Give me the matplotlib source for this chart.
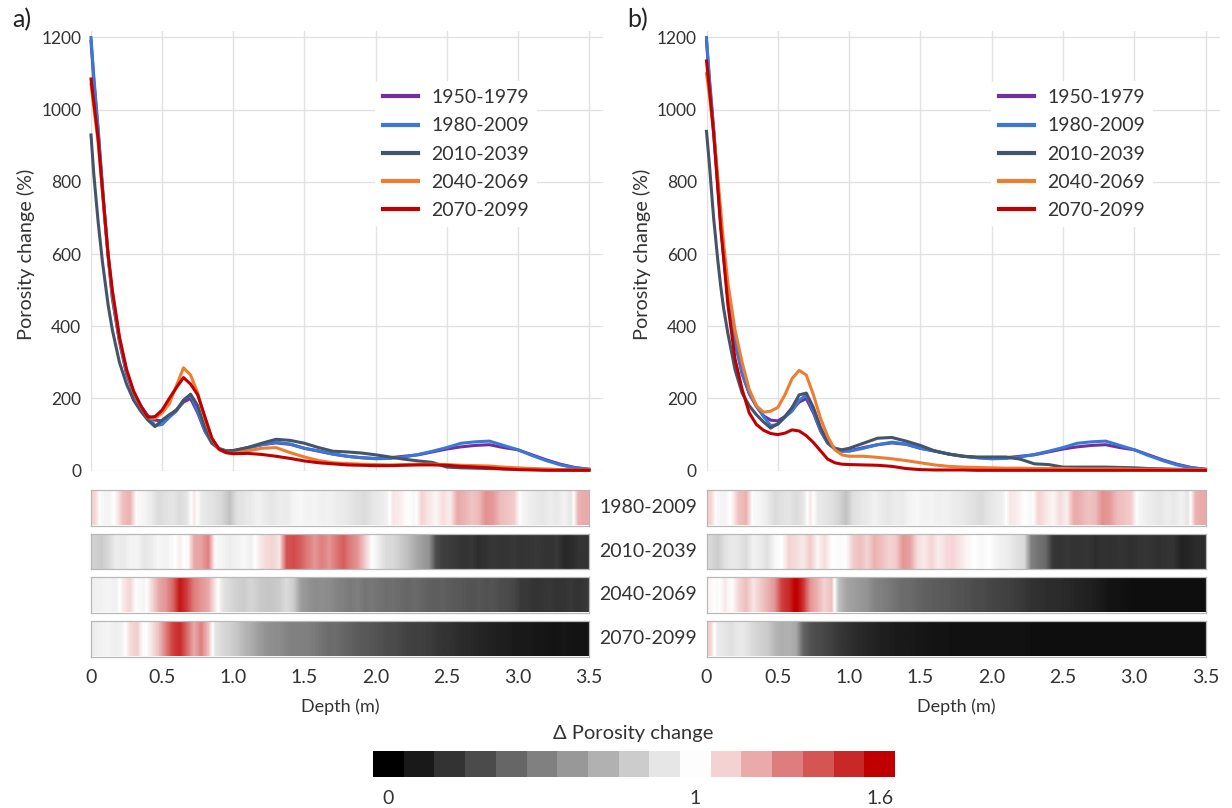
import numpy as np
import matplotlib
matplotlib.use("Agg")
import matplotlib.pyplot as plt
from matplotlib.colors import LinearSegmentedColormap, Normalize

plt.rcParams["font.family"] = ["Lato", "DejaVu Sans"]

# ---------------------------------------------------------------- data
depth = [0, 0.02, 0.05, 0.08, 0.1, 0.12, 0.15, 0.2, 0.25, 0.3, 0.35, 0.4, 0.45,
         0.5, 0.55, 0.6, 0.65, 0.7, 0.75, 0.8, 0.85, 0.9, 0.95, 1.0, 1.1, 1.2,
         1.3, 1.4, 1.5, 1.6, 1.7, 1.8, 1.9, 2.0, 2.1, 2.2, 2.3, 2.4, 2.5, 2.6,
         2.7, 2.8, 2.9, 3.0, 3.1, 3.2, 3.3, 3.4, 3.5]

periods = ["1950-1979", "1980-2009", "2010-2039", "2040-2069", "2070-2099"]
period_colors = ["#7030a0", "#3a78d6", "#44546a", "#ed7d31", "#c00000"]

# historical periods (shared by both scenarios)
por_1950 = [1190, 1080, 940, 785, 685, 595, 478, 358, 268, 213, 178, 152, 140,
            138, 150, 168, 190, 200, 160, 110, 76, 60, 54, 55, 64, 72,
            77, 73, 62, 54, 46, 40, 36, 34, 36, 40, 44, 52, 60, 66,
            70, 72, 64, 58, 44, 30, 18, 9, 4]
por_1980 = [1200, 1090, 950, 790, 690, 600, 480, 360, 270, 215, 180, 150, 125,
            128, 148, 165, 195, 210, 165, 112, 78, 62, 55, 54, 62, 72,
            79, 74, 62, 55, 46, 40, 36, 33, 34, 38, 45, 54, 64, 76,
            80, 82, 70, 58, 42, 28, 16, 8, 4]

# scenario a)
por_a_2010 = [930, 820, 690, 580, 520, 460, 390, 300, 240, 195, 165, 140, 122,
              140, 155, 168, 195, 212, 180, 120, 78, 60, 55, 56, 64, 76,
              87, 84, 76, 64, 54, 52, 49, 44, 38, 32, 27, 23, 10, 8,
              7, 6, 5, 5, 4, 4, 3, 3, 2]
por_a_2040 = [1070, 1005, 910, 775, 685, 598, 495, 368, 278, 218, 178, 147, 145,
              160, 185, 235, 285, 265, 215, 145, 88, 58, 50, 48, 55, 62,
              64, 50, 38, 28, 22, 20, 18, 17, 16, 17, 18, 18, 17, 15,
              14, 13, 10, 8, 6, 4, 3, 2, 2]
por_a_2070 = [1085, 1020, 920, 780, 690, 600, 500, 370, 280, 220, 180, 148, 150,
              168, 200, 230, 258, 240, 210, 150, 90, 60, 50, 47, 48, 45,
              40, 34, 27, 22, 19, 16, 15, 14, 14, 15, 16, 16, 15, 12,
              10, 8, 5, 3, 2, 1, 1, 1, 1]

# scenario b)
por_b_2010 = [940, 850, 700, 580, 510, 450, 380, 280, 215, 180, 155, 135, 118,
              130, 150, 175, 210, 215, 175, 120, 80, 62, 58, 62, 76, 90,
              92, 82, 70, 55, 46, 40, 38, 38, 38, 32, 19, 17, 10, 10,
              10, 10, 9, 8, 6, 5, 4, 3, 2]
por_b_2040 = [1100, 1040, 940, 810, 720, 630, 520, 390, 300, 225, 180, 162, 165,
              175, 210, 255, 278, 265, 210, 145, 95, 58, 44, 40, 40, 37,
              33, 28, 22, 16, 12, 10, 9, 8, 7, 7, 6, 6, 6, 5,
              5, 5, 5, 4, 4, 3, 3, 3, 3]
por_b_2070 = [1135, 1060, 935, 780, 670, 590, 460, 310, 225, 160, 128, 112, 103,
              100, 104, 113, 110, 97, 78, 55, 32, 22, 18, 17, 16, 15,
              12, 6, 3, 2, 2, 2, 1, 1, 1, 1, 1, 1, 1, 1,
              1, 1, 1, 1, 1, 1, 1, 1, 1]

# ratio to 1950-1979 in 0.05 m depth bins (0 - 3.5 m)
ratio_1980 = [1.10, 0.97, 0.95, 1.02, 1.15, 1.18, 0.98, 0.96, 0.92, 0.86,
              0.88, 0.90, 0.86, 0.90, 1.06, 0.92, 0.90, 0.88, 0.84, 0.76,
              0.88, 0.90, 0.92, 0.95, 0.92, 0.90, 0.93, 0.92, 0.96, 0.97,
              0.95, 0.96, 0.94, 0.95, 0.93, 0.92, 0.90, 0.88, 0.86, 0.90,
              0.92, 0.94, 1.06, 1.04, 1.00, 0.97, 1.10, 1.06, 1.02, 1.08,
              1.04, 1.20, 1.18, 1.14, 1.16, 1.26, 1.24, 1.16, 1.14, 1.12,
              0.97, 0.94, 0.92, 0.90, 0.93, 0.91, 0.95, 0.90, 1.18, 1.20]
ratio_a_2010 = [0.82, 0.80, 0.85, 0.93, 0.92, 0.95, 0.96, 0.90, 0.93, 0.97,
                0.95, 0.98, 1.04, 0.97, 1.20, 1.22, 1.30, 0.98, 0.96, 0.93,
                0.95, 0.97, 0.94, 1.04, 1.08, 1.10, 1.06, 1.40, 1.42, 1.38,
                1.30, 1.25, 1.30, 1.25, 1.32, 1.38, 1.30, 1.25, 1.12, 1.00,
                0.93, 0.86, 0.85, 0.80, 0.75, 0.68, 0.62, 0.58, 0.30, 0.25,
                0.24, 0.22, 0.20, 0.22, 0.18, 0.20, 0.22, 0.20, 0.21, 0.22,
                0.20, 0.21, 0.22, 0.21, 0.20, 0.22, 0.16, 0.17, 0.20, 0.20]
ratio_a_2040 = [0.94, 0.95, 0.96, 0.94, 1.05, 1.10, 0.98, 0.96, 1.08, 1.20,
                1.25, 1.35, 1.55, 1.45, 1.30, 1.25, 1.20, 1.05, 0.90, 0.85,
                0.82, 0.80, 0.84, 0.80, 0.78, 0.78, 0.80, 0.86, 0.80, 0.62,
                0.58, 0.55, 0.56, 0.55, 0.52, 0.50, 0.48, 0.50, 0.46, 0.47,
                0.45, 0.43, 0.44, 0.42, 0.40, 0.42, 0.40, 0.38, 0.37, 0.38,
                0.36, 0.35, 0.34, 0.33, 0.34, 0.32, 0.33, 0.30, 0.30, 0.28,
                0.22, 0.22, 0.20, 0.21, 0.22, 0.20, 0.21, 0.22, 0.20, 0.22]
ratio_a_2070 = [0.93, 0.95, 0.96, 0.93, 0.96, 1.08, 1.12, 0.98, 1.06, 1.15,
                1.30, 1.45, 1.50, 1.35, 1.20, 1.30, 1.15, 0.90, 0.85, 0.82,
                0.78, 0.72, 0.68, 0.62, 0.58, 0.56, 0.55, 0.52, 0.50, 0.50,
                0.50, 0.48, 0.45, 0.42, 0.43, 0.40, 0.38, 0.36, 0.35, 0.34,
                0.32, 0.30, 0.30, 0.28, 0.26, 0.25, 0.25, 0.24, 0.22, 0.20,
                0.20, 0.18, 0.17, 0.16, 0.15, 0.14, 0.13, 0.12, 0.12, 0.10,
                0.10, 0.10, 0.09, 0.09, 0.08, 0.08, 0.09, 0.08, 0.08, 0.08]
ratio_b_2010 = [0.85, 0.80, 0.88, 0.92, 0.90, 0.86, 0.95, 0.92, 0.88, 0.97,
                1.00, 1.10, 1.08, 1.05, 1.12, 1.02, 1.08, 1.00, 0.98, 1.00,
                1.12, 1.15, 1.10, 1.18, 1.15, 1.10, 1.12, 1.25, 1.22, 1.08,
                1.05, 1.10, 1.04, 1.08, 1.10, 1.06, 1.02, 1.00, 0.97, 1.00,
                0.96, 0.94, 0.92, 0.88, 0.86, 0.50, 0.45, 0.42, 0.22, 0.20,
                0.22, 0.20, 0.20, 0.21, 0.18, 0.20, 0.19, 0.20, 0.20, 0.19,
                0.20, 0.21, 0.20, 0.19, 0.20, 0.20, 0.14, 0.15, 0.17, 0.17]
ratio_b_2040 = [1.02, 0.98, 1.05, 1.00, 1.10, 1.15, 1.06, 1.12, 1.18, 1.25,
                1.45, 1.50, 1.62, 1.48, 1.25, 1.18, 1.10, 1.15, 0.75, 0.65,
                0.62, 0.60, 0.58, 0.52, 0.50, 0.48, 0.45, 0.42, 0.42, 0.40,
                0.38, 0.37, 0.36, 0.35, 0.34, 0.33, 0.32, 0.30, 0.30, 0.28,
                0.27, 0.26, 0.25, 0.24, 0.22, 0.20, 0.19, 0.18, 0.18, 0.17,
                0.16, 0.15, 0.14, 0.13, 0.12, 0.10, 0.08, 0.08, 0.07, 0.06,
                0.06, 0.06, 0.06, 0.06, 0.06, 0.06, 0.06, 0.06, 0.06, 0.06]
ratio_b_2070 = [1.10, 0.92, 0.90, 0.88, 0.92, 0.90, 0.85, 0.82, 0.80, 0.72,
                0.68, 0.70, 0.66, 0.40, 0.32, 0.30, 0.28, 0.25, 0.22, 0.20,
                0.18, 0.16, 0.15, 0.14, 0.12, 0.12, 0.10, 0.10, 0.10, 0.09,
                0.09, 0.08, 0.08, 0.08, 0.07, 0.07, 0.07, 0.07, 0.07, 0.07,
                0.07, 0.07, 0.07, 0.07, 0.07, 0.06, 0.06, 0.06, 0.06, 0.06,
                0.06, 0.06, 0.06, 0.06, 0.06, 0.06, 0.06, 0.06, 0.06, 0.06,
                0.06, 0.06, 0.06, 0.06, 0.06, 0.06, 0.06, 0.06, 0.06, 0.06]

strip_periods = ["1980-2009", "2010-2039", "2040-2069", "2070-2099"]
y_ticks = [0, 200, 400, 600, 800, 1000, 1200]
x_ticks = [0, 0.5, 1.0, 1.5, 2.0, 2.5, 3.0, 3.5]
x_tick_labels = ["0", "0.5", "1.0", "1.5", "2.0", "2.5", "3.0", "3.5"]
cbar_levels = [0.0, 0.1, 0.2, 0.3, 0.4, 0.5, 0.6, 0.7, 0.8, 0.9, 1.0,
               1.1, 1.2, 1.3, 1.4, 1.5, 1.6]
cbar_ticks = [0, 1, 1.6]
cbar_tick_labels = ["0", "1", "1.6"]

panels = [
    dict(tag="a)", curves=[por_1950, por_1980, por_a_2010, por_a_2040, por_a_2070],
         strips=[ratio_1980, ratio_a_2010, ratio_a_2040, ratio_a_2070],
         left=91.0, right=589.0),
    dict(tag="b)", curves=[por_1950, por_1980, por_b_2010, por_b_2040, por_b_2070],
         strips=[ratio_1980, ratio_b_2010, ratio_b_2040, ratio_b_2070],
         left=706.5, right=1205.5),
]

# ---------------------------------------------------------------- style
W, H = 1232, 808
TXT = "#333333"
GRID = "#e2e2e2"
cmap = LinearSegmentedColormap.from_list(
    "delta", [(0.0, "#000000"), (1.0 / 1.6, "#ffffff"), (1.0, "#c00000")])
norm = Normalize(vmin=0.0, vmax=1.6)

fig = plt.figure(figsize=(W / 100, H / 100), dpi=100)


def axes_px(left, top, right, bottom):
    return fig.add_axes([left / W, 1 - bottom / H, (right - left) / W, (bottom - top) / H])


strip_tops = [490.0, 533.5, 577.0, 621.0]
strip_h = 35.5

for p in panels:
    scale = (p["right"] - p["left"]) / 3.5
    ax = axes_px(p["left"], 31.0, p["left"] + 3.6 * scale, 470.7)
    for vals, lab, col in zip(p["curves"], periods, period_colors):
        ax.plot(depth, vals, color=col, lw=2.2, label=lab, clip_on=False,
                solid_joinstyle="round")
    ax.set_xlim(0, 3.6)
    ax.set_ylim(0, 1218)
    ax.set_xticks(x_ticks)
    ax.set_yticks(y_ticks)
    ax.grid(True, color=GRID, lw=1.0)
    ax.set_axisbelow(True)
    ax.tick_params(length=0, labelbottom=False, labelsize=12.5, colors=TXT, pad=7)
    for s in ax.spines.values():
        s.set_visible(False)
    leg = ax.legend(loc="center left", bbox_to_anchor=(0.554, 0.72),
                    borderaxespad=0, frameon=True, facecolor="white",
                    edgecolor="none", framealpha=1.0, fontsize=14,
                    handlelength=1.8, handletextpad=0.7, labelspacing=0.58,
                    borderpad=0.4)
    for t in leg.get_texts():
        t.set_color(TXT)
    for h in leg.get_lines():
        h.set_linewidth(3.0)

    fig.text((p["left"] - 65) / W, 1 - 254 / H, "Porosity change (%)", rotation=90,
             ha="center", va="center", fontsize=14.3, color=TXT)
    fig.text((p["left"] - 69) / W, 1 - 20 / H, p["tag"], ha="center", va="center",
             fontsize=18, color="#222222")

    for k, ratios in enumerate(p["strips"]):
        top = strip_tops[k]
        sax = axes_px(p["left"], top, p["right"], top + strip_h)
        sax.imshow(np.array(ratios)[None, :], cmap=cmap, norm=norm, aspect="auto",
                   extent=(0, 3.5, 0, 1), interpolation="bilinear")
        sax.set_xlim(0, 3.5)
        sax.set_ylim(0, 1)
        sax.set_yticks([])
        for s in sax.spines.values():
            s.set_color("#b8b8b8")
            s.set_linewidth(0.9)
        if k == len(p["strips"]) - 1:
            sax.set_xticks(x_ticks)
            sax.set_xticklabels(x_tick_labels)
            sax.tick_params(axis="x", length=0, labelsize=14, colors=TXT, pad=9)
        else:
            sax.set_xticks([])

    mid = (p["left"] + p["right"]) / 2
    fig.text(mid / W, 1 - 707 / H, "Depth (m)", ha="center", va="center",
             fontsize=13, color=TXT)

for k, lab in enumerate(strip_periods):
    fig.text(648 / W, 1 - (strip_tops[k] + strip_h / 2) / H, lab, ha="center",
             va="center", fontsize=14, color=TXT)

# discrete colour key
cax = axes_px(373, 751, 895, 777)
cax.imshow(np.array(cbar_levels)[None, :], cmap=cmap, norm=norm, aspect="auto",
           extent=(-0.05, 1.65, 0, 1), interpolation="nearest")
cax.set_xlim(-0.05, 1.65)
cax.set_yticks([])
cax.set_xticks(cbar_ticks)
cax.set_xticklabels(cbar_tick_labels)
cax.tick_params(axis="x", length=0, labelsize=14, colors=TXT, pad=9)
for s in cax.spines.values():
    s.set_visible(False)
fig.text(633 / W, 1 - 734 / H, "\u0394 Porosity change", ha="center", va="center",
         fontsize=14.5, color=TXT)

fig.savefig("out.png", dpi=100, facecolor="white")
